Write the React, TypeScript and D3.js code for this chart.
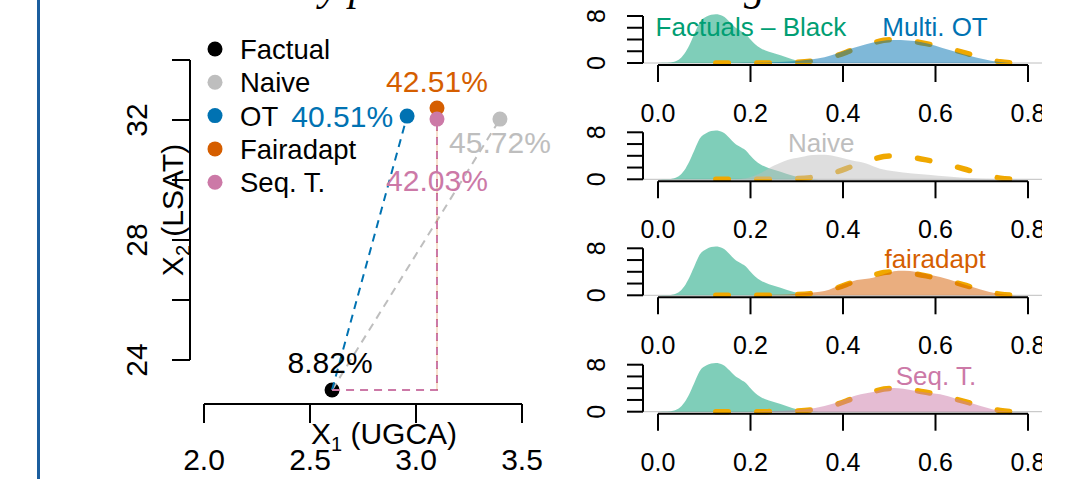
import React from 'react';
import * as d3 from 'd3';

// ---- left panel: one factual individual and its counterfactuals ----
const methods = ['Factual', 'Naive', 'OT', 'Fairadapt', 'Seq. T.'];
const methodColors = ['#000000', '#BEBEBE', '#0072B2', '#D55E00', '#CC79A7'];
const ugca = [2.604, 3.396, 2.958, 3.099, 3.099];
const lsat = [23.0, 32.03, 32.13, 32.4, 32.03];
const probs = ['8.82%', '45.72%', '40.51%', '42.51%', '42.03%'];

const xTicks = [2.0, 2.5, 3.0, 3.5];
const yTicks = [24, 26, 28, 30, 32, 34];
const yTickLabels = ['24', '', '28', '', '32', ''];

// ---- right panels: densities of the predicted scores ----
const factualDensity: [number, number][] = [
  [0.0, 0], [0.02, 0.03], [0.035, 0.2], [0.048, 0.75], [0.06, 1.9], [0.07, 3.4],
  [0.08, 5.2], [0.09, 6.9], [0.105, 7.9], [0.125, 8.3], [0.14, 8.0], [0.155, 7.0],
  [0.165, 6.2], [0.18, 5.4], [0.19, 4.9], [0.2, 4.0], [0.21, 3.2], [0.222, 2.5],
  [0.24, 1.9], [0.265, 1.3], [0.29, 0.65], [0.31, 0.25], [0.335, 0.05], [0.36, 0],
];
const targetDensity: [number, number][] = [
  [0.125, 0], [0.2, 0.0], [0.25, 0.02], [0.3, 0.12], [0.34, 0.4], [0.38, 1.1],
  [0.42, 2.2], [0.46, 3.3], [0.5, 3.95], [0.54, 3.8], [0.58, 3.3], [0.62, 2.6],
  [0.66, 1.8], [0.7, 0.9], [0.74, 0.2], [0.77, 0],
];
const otDensity: [number, number][] = [
  [0.17, 0], [0.2, 0.03], [0.25, 0.12], [0.3, 0.35], [0.33, 0.6], [0.36, 1.0],
  [0.39, 1.7], [0.42, 2.5], [0.45, 3.2], [0.48, 3.7], [0.51, 3.9], [0.54, 3.85],
  [0.57, 3.55], [0.6, 2.95], [0.63, 2.2], [0.66, 1.5], [0.69, 0.9], [0.72, 0.4],
  [0.75, 0.1], [0.78, 0],
];
const naiveDensity: [number, number][] = [
  [0.16, 0], [0.19, 0.2], [0.22, 1.0], [0.25, 2.3], [0.28, 3.3], [0.31, 3.8],
  [0.335, 4.15], [0.36, 4.2], [0.39, 3.8], [0.42, 3.2], [0.45, 2.7], [0.48, 1.8],
  [0.51, 1.35], [0.55, 1.0], [0.59, 0.75], [0.62, 0.5], [0.66, 0.25], [0.7, 0.1],
  [0.75, 0.03], [0.8, 0],
];
const fairadaptDensity: [number, number][] = [
  [0.17, 0], [0.22, 0.05], [0.28, 0.15], [0.32, 0.4], [0.36, 0.75], [0.4, 1.9],
  [0.43, 2.6], [0.465, 3.0], [0.5, 3.9], [0.52, 4.2], [0.545, 4.15], [0.575, 3.7],
  [0.61, 3.1], [0.645, 2.3], [0.68, 1.4], [0.715, 0.6], [0.75, 0.12], [0.775, 0],
];
const seqDensity: [number, number][] = [
  [0.17, 0], [0.22, 0.05], [0.27, 0.15], [0.32, 0.4], [0.36, 0.95], [0.4, 1.95],
  [0.43, 2.8], [0.465, 3.35], [0.5, 4.05], [0.52, 4.0], [0.54, 3.8], [0.575, 3.3],
  [0.61, 2.95], [0.645, 2.2], [0.68, 1.4], [0.715, 0.6], [0.745, 0.1], [0.77, 0],
];
const panelDensities = [otDensity, naiveDensity, fairadaptDensity, seqDensity];
const panelLabels = ['Multi. OT', 'Naive', 'fairadapt', 'Seq. T.'];
const panelColors = ['#0072B2', '#BEBEBE', '#D55E00', '#CC79A7'];
const panelLabelX = [0.599, 0.353, 0.599, 0.601];
const densTicksX = [0, 0.2, 0.4, 0.6, 0.8];
const densTickLabelsX = ['0.0', '0.2', '0.4', '0.6', '0.8'];
const densTicksY = [0, 2, 4, 6, 8];

const W = 1080;
const H = 479;
const sans = '"Liberation Sans", Arial, Helvetica, sans-serif';
const serif = '"Liberation Serif", "Times New Roman", serif';

// where each percentage sits relative to its point
const labelOffsets = [
  { dx: -2, dy: -17, anchor: 'middle' },
  { dx: 0, dy: 34, anchor: 'middle' },
  { dx: -14, dy: 11, anchor: 'end' },
  { dx: 0, dy: -16, anchor: 'middle' },
  { dx: 0, dy: 72, anchor: 'middle' },
];

const ScatterPanel = () => {
  const x = d3.scaleLinear().domain([2, 3.5]).range([204, 522]);
  const y = d3.scaleLinear().domain([24, 34]).range([360, 60]);
  const fx = x(ugca[0]);
  const fy = y(lsat[0]);
  const dash = '8 6';

  const seqPath = d3.path();
  seqPath.moveTo(fx, fy);
  seqPath.lineTo(x(ugca[4]), fy);
  seqPath.lineTo(x(ugca[4]), y(lsat[4]));

  return (
    <g>
      {/* axes */}
      <line x1={190} x2={190} y1={y(34)} y2={y(24)} stroke="#000" strokeWidth={2} />
      {yTicks.map((t, i) => (
        <g key={t}>
          <line x1={172} x2={190} y1={y(t)} y2={y(t)} stroke="#000" strokeWidth={2} />
          {yTickLabels[i] && (
            <text transform={`translate(147,${y(t)}) rotate(-90)`} textAnchor="middle"
              fontSize={30} fontFamily={sans}>{yTickLabels[i]}</text>
          )}
        </g>
      ))}
      <line x1={x(2)} x2={x(3.5)} y1={404} y2={404} stroke="#000" strokeWidth={2} />
      {xTicks.map(t => (
        <g key={t}>
          <line x1={x(t)} x2={x(t)} y1={404} y2={423} stroke="#000" strokeWidth={2} />
          <text x={x(t)} y={470} textAnchor="middle" fontSize={30} fontFamily={sans}>
            {t.toFixed(1)}
          </text>
        </g>
      ))}
      <text x={384} y={444} textAnchor="middle" fontSize={30} fontFamily={sans}>
        X<tspan fontSize={20} dy={7}>1</tspan><tspan dy={-7}> (UGCA)</tspan>
      </text>
      <text transform="translate(183,210) rotate(-90)" textAnchor="middle" fontSize={30} fontFamily={sans}>
        X<tspan fontSize={20} dy={7}>2</tspan><tspan dy={-7}> (LSAT)</tspan>
      </text>

      {/* factual point, then the transport paths on top of it */}
      <circle cx={fx} cy={fy} r={7.5} fill={methodColors[0]} />
      <line x1={fx} y1={fy} x2={x(ugca[1])} y2={y(lsat[1])} stroke={methodColors[1]} strokeWidth={2} strokeDasharray={dash} />
      <line x1={fx} y1={fy} x2={x(ugca[2])} y2={y(lsat[2])} stroke={methodColors[2]} strokeWidth={2} strokeDasharray={dash} />
      <path d={seqPath.toString()} fill="none" stroke={methodColors[4]} strokeWidth={2} strokeDasharray={dash} />
      <line x1={x(ugca[3])} y1={fy} x2={x(ugca[3])} y2={y(lsat[3])} stroke={methodColors[3]} strokeOpacity={0.2} strokeWidth={2} strokeDasharray={dash} />

      {methods.slice(1).map((m, k) => {
        const i = k + 1;
        return <circle key={m} cx={x(ugca[i])} cy={y(lsat[i])} r={7.5} fill={methodColors[i]} />;
      })}

      {probs.map((p, i) => (
        <text key={p} x={x(ugca[i]) + labelOffsets[i].dx} y={y(lsat[i]) + labelOffsets[i].dy}
          textAnchor={labelOffsets[i].anchor as any} fontSize={30} fontFamily={sans}
          fill={methodColors[i]}>{p}</text>
      ))}

      {/* legend */}
      {methods.map((m, i) => (
        <g key={m} transform={`translate(215,${49 + i * 33.3})`}>
          <circle r={7.5} fill={methodColors[i]} />
          <text x={25} dy={10} fontSize={27.5} fontFamily={sans}>{m}</text>
        </g>
      ))}
    </g>
  );
};

const DensityPanel = ({ idx, zero }: { idx: number; zero: number }) => {
  const x = d3.scaleLinear().domain([0, 0.8]).range([658, 1028]);
  const y = d3.scaleLinear().domain([0, 8]).range([zero, zero - 47]);
  const area = d3.area<[number, number]>()
    .x(d => x(d[0])).y0(y(0)).y1(d => y(d[1]))
    .curve(d3.curveMonotoneX);
  const line = d3.line<[number, number]>()
    .x(d => x(d[0])).y(d => y(d[1]))
    .curve(d3.curveMonotoneX);
  const col = panelColors[idx];

  return (
    <g>
      <line x1={643} x2={1080} y1={y(0)} y2={y(0)} stroke="#BEBEBE" strokeWidth={1} />
      <path d={area(factualDensity) || ''} fill="#009E73" fillOpacity={0.5} />
      <path d={line(targetDensity) || ''} fill="none" stroke="#F0A800" strokeWidth={5.5}
        strokeDasharray="12.5 28.5" strokeLinecap="round" />
      <path d={area(panelDensities[idx]) || ''} fill={col} fillOpacity={0.5} />

      {/* y axis */}
      <line x1={643} x2={643} y1={y(8)} y2={y(0)} stroke="#000" strokeWidth={2} />
      {densTicksY.map(t => (
        <line key={t} x1={627} x2={643} y1={y(t)} y2={y(t)} stroke="#000" strokeWidth={2} />
      ))}
      {[0, 8].map(t => (
        <text key={t} transform={`translate(605,${y(t)}) rotate(-90)`} textAnchor="middle"
          fontSize={25} fontFamily={sans}>{t}</text>
      ))}

      {/* x axis */}
      <line x1={x(0)} x2={x(0.8)} y1={zero + 2} y2={zero + 2} stroke="#000" strokeWidth={2} />
      {densTicksX.map((t, i) => (
        <g key={t}>
          <line x1={x(t)} x2={x(t)} y1={zero + 2} y2={zero + 19} stroke="#000" strokeWidth={2} />
          <text x={x(t)} y={zero + 59} textAnchor="middle" fontSize={25} fontFamily={sans}>
            {densTickLabelsX[i]}
          </text>
        </g>
      ))}

      {idx === 0 && (
        <text x={x(0.201)} y={y(4.6)} textAnchor="middle" fontSize={26} fontFamily={sans}
          fill="#009E73">Factuals – Black</text>
      )}
      <text x={x(panelLabelX[idx])} y={y(4.6)} textAnchor="middle" fontSize={26}
        fontFamily={sans} fill={col}>{panelLabels[idx]}</text>
    </g>
  );
};

const App = () => {
  const zeros = [63, 179.3, 295.3, 411.7];
  return (
    <svg width={W} height={H} viewBox={`0 0 ${W} ${H}`}
      style={{ position: 'absolute', left: 0, top: 0, background: '#fff' }}>
      <defs>
        <clipPath id="rightClip">
          <rect x={560} y={0} width={482} height={H} />
        </clipPath>
      </defs>
      <rect width={W} height={H} fill="#fff" />
      <line x1={38.5} x2={38.5} y1={0} y2={H} stroke="#1B5E9E" strokeWidth={3} />

      {/* titles, only their descenders fall inside the frame */}
      <text x={210} y={0} fontSize={42} fontStyle="italic" fontFamily={serif}>Density plot</text>
      <g clipPath="url(#rightClip)">
        <text x={625} y={0} fontSize={42} fontStyle="italic" fontFamily={serif}>Ranking densities</text>
      </g>

      <ScatterPanel />
      <g clipPath="url(#rightClip)">
        {zeros.map((z, i) => <DensityPanel key={i} idx={i} zero={z} />)}
      </g>
    </svg>
  );
};

export default App;
